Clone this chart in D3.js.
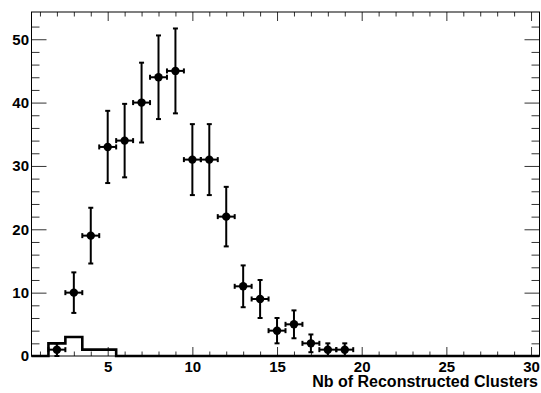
<!DOCTYPE html>
<html>
  <head>
    <meta charset="UTF-8" />
    <title>Nb of Reconstructed Clusters</title>
    <script src="https://cdn.jsdelivr.net/npm/d3@7"></script>
    <style>
      body {
        margin: 0;
        background: white;
      }
      text {
        font-family: "Liberation Sans", Arial, sans-serif;
        font-weight: bold;
        font-size: 15px;
        fill: black;
      }
    </style>
  </head>
  <body>
    <div class="chart"></div>

    <script>
      // data
      let clusters = [2, 3, 4, 5, 6, 7, 8, 9, 10, 11, 12, 13, 14, 15, 16, 17, 18, 19];
      let counts = [1, 10, 19, 33, 34, 40, 44, 45, 31, 31, 22, 11, 9, 4, 5, 2, 1, 1];
      let errors = [1, 3.2, 4.4, 5.7, 5.8, 6.3, 6.6, 6.7, 5.6, 5.6, 4.7, 3.3, 3, 2, 2.2, 1.4, 1, 1];

      // histogram, bins of width 1 from 0.5 to 30.5
      let histValues = [0, 2, 3, 1, 1, 0, 0, 0, 0, 0, 0, 0, 0, 0, 0,
                        0, 0, 0, 0, 0, 0, 0, 0, 0, 0, 0, 0, 0, 0, 0];

      let xMajor = [5, 10, 15, 20, 25, 30];
      let yMajor = [0, 10, 20, 30, 40, 50];
      let xTitle = "Nb of Reconstructed Clusters";

      let width = 541;
      let height = 393;
      let pLeft = 31.5, pRight = 539.5, pTop = 12, pBottom = 356;

      let svg = d3
        .select(".chart")
        .append("svg")
        .attr("width", width)
        .attr("height", height);

      let x = d3.scaleLinear().domain([0.5, 30.5]).range([pLeft, pRight]);
      let y = d3.scaleLinear().domain([0, 54.3]).range([pBottom, pTop]);

      let xMinor = d3.range(1, 31).filter((d) => d % 5 != 0);
      let yMinor = d3.range(2, 54, 2).filter((d) => d % 10 != 0);

      // axes: ticks on all four sides, pointing inside
      function addAxis(axis, tx, ty) {
        let g = svg
          .append("g")
          .attr("transform", `translate(${tx},${ty})`)
          .call(axis);
        g.select(".domain").remove();
        g.selectAll("line").attr("stroke", "#333");
        g.selectAll("text").attr("font-size", null).attr("font-family", null);
        return g;
      }

      addAxis(
        d3.axisBottom(x).tickValues(xMajor).tickSizeInner(-9).tickSizeOuter(0).tickPadding(5),
        0, pBottom
      );
      addAxis(d3.axisBottom(x).tickValues(xMinor).tickSize(-4.5).tickFormat(""), 0, pBottom);
      addAxis(d3.axisTop(x).tickValues(xMajor).tickSize(-9).tickFormat(""), 0, pTop);
      addAxis(d3.axisTop(x).tickValues(xMinor).tickSize(-4.5).tickFormat(""), 0, pTop);

      addAxis(
        d3.axisLeft(y).tickValues(yMajor).tickSizeInner(-15).tickSizeOuter(0).tickPadding(2.5),
        pLeft, 0
      );
      addAxis(d3.axisLeft(y).tickValues(yMinor).tickSize(-8).tickFormat(""), pLeft, 0);
      addAxis(d3.axisRight(y).tickValues(yMajor).tickSize(-15).tickFormat(""), pRight, 0);
      addAxis(d3.axisRight(y).tickValues(yMinor).tickSize(-8).tickFormat(""), pRight, 0);

      // frame
      svg
        .append("rect")
        .attr("x", pLeft)
        .attr("y", pTop)
        .attr("width", pRight - pLeft)
        .attr("height", pBottom - pTop)
        .attr("fill", "none")
        .attr("stroke", "black")
        .attr("stroke-width", 1);

      // histogram outline
      let steps = histValues.map((v, i) => [i + 0.5, v]);
      steps.push([30.5, histValues[histValues.length - 1]]);
      let stepLine = d3
        .line()
        .x((d) => x(d[0]))
        .y((d) => y(d[1]))
        .curve(d3.curveStepAfter);
      svg
        .append("path")
        .datum(steps)
        .attr("fill", "none")
        .attr("stroke", "black")
        .attr("stroke-width", 2.6)
        .attr("d", stepLine);

      // points with error bars
      let pts = clusters.map((c, i) => ({ c: c, n: counts[i], e: errors[i] }));
      let cap = 2.5;
      let g = svg.append("g").attr("stroke", "black").attr("stroke-width", 2);

      pts.forEach((p) => {
        let cx = x(p.c), cy = y(p.n);
        let y0 = y(Math.max(p.n - p.e, 0)), y1 = y(p.n + p.e);
        let x0 = x(p.c - 0.5), x1 = x(p.c + 0.5);
        g.append("line").attr("x1", cx).attr("x2", cx).attr("y1", y0).attr("y2", y1);
        g.append("line").attr("x1", cx - cap).attr("x2", cx + cap).attr("y1", y0).attr("y2", y0);
        g.append("line").attr("x1", cx - cap).attr("x2", cx + cap).attr("y1", y1).attr("y2", y1);
        g.append("line").attr("x1", x0).attr("x2", x1).attr("y1", cy).attr("y2", cy);
        g.append("line").attr("x1", x0).attr("x2", x0).attr("y1", cy - cap).attr("y2", cy + cap);
        g.append("line").attr("x1", x1).attr("x2", x1).attr("y1", cy - cap).attr("y2", cy + cap);
      });

      svg
        .append("g")
        .selectAll("circle")
        .data(pts)
        .enter()
        .append("circle")
        .attr("cx", (d) => x(d.c))
        .attr("cy", (d) => y(d.n))
        .attr("r", 4.2)
        .attr("fill", "black");

      // axis title
      svg
        .append("text")
        .attr("x", 538)
        .attr("y", 387)
        .attr("text-anchor", "end")
        .attr("font-size", 16)
        .style("font-size", "16px")
        .text(xTitle);
    </script>
  </body>
</html>
